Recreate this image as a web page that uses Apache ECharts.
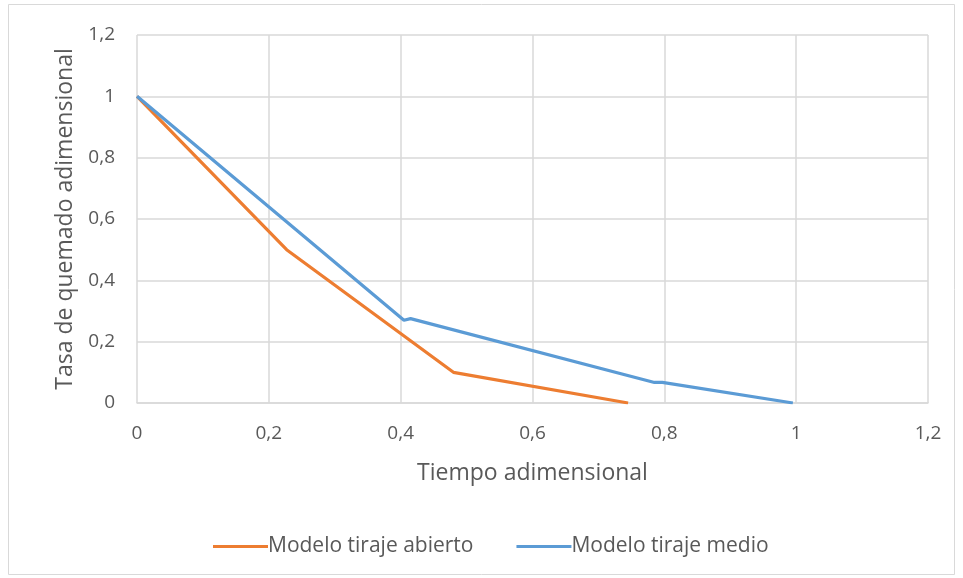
<!DOCTYPE html>
<html>
<head>
<meta charset="utf-8">
<script src="https://cdn.jsdelivr.net/npm/echarts@6/dist/echarts.min.js"></script>
<style>
  html, body { margin: 0; padding: 0; background: #fff; }
  #chart { width: 963px; height: 578px; }
</style>
</head>
<body>
<div id="chart"></div>
<script>
// Dimensionless burn-rate curves for two draft models
const abiertoX = [0, 0.227, 0.48, 0.745];
const abiertoY = [1, 0.5, 0.1, 0];
const medioX = [0, 0.405, 0.415, 0.785, 0.797, 0.995];
const medioY = [1, 0.27, 0.275, 0.067, 0.067, 0];
const seriesNames = ['Modelo tiraje abierto', 'Modelo tiraje medio'];
const xTitle = 'Tiempo adimensional';
const yTitle = 'Tasa de quemado adimensional';

const pairs = (xs, ys) => xs.map((x, i) => [x, ys[i]]);
const fmt = v => String(+v.toFixed(1)).replace('.', ',');
const font = "'Open Sans', sans-serif";

const chart = echarts.init(document.getElementById('chart'));
chart.setOption({
  animation: false,
  backgroundColor: '#fff',
  graphic: [{
    type: 'rect',
    shape: { x: 8.5, y: 4.5, width: 946, height: 570 },
    style: { fill: 'none', stroke: '#d9d9d9', lineWidth: 1 }
  }],
  grid: { left: 137, right: 35, top: 35, bottom: 175 },
  xAxis: {
    type: 'value', min: 0, max: 1.2, interval: 0.2,
    name: xTitle, nameLocation: 'middle', nameGap: 59,
    nameTextStyle: { color: '#595959', fontSize: 23, fontFamily: font },
    axisLine: { show: true, lineStyle: { color: '#d9d9d9', width: 1.5 } },
    axisTick: { show: false },
    axisLabel: { color: '#595959', fontSize: 19, fontFamily: font, margin: 21, formatter: fmt },
    splitLine: { show: true, lineStyle: { color: '#d9d9d9', width: 1.5 } }
  },
  yAxis: {
    type: 'value', min: 0, max: 1.2, interval: 0.2,
    name: yTitle, nameLocation: 'middle', nameGap: 60,
    nameTextStyle: { color: '#595959', fontSize: 23, fontFamily: font },
    axisLine: { show: false },
    axisTick: { show: false },
    axisLabel: { color: '#595959', fontSize: 19, fontFamily: font, margin: 22, formatter: fmt },
    splitLine: { show: true, lineStyle: { color: '#d9d9d9', width: 1.5 } }
  },
  legend: {
    bottom: 16, left: 208, itemGap: 43,
    itemWidth: 55, itemHeight: 3,
    icon: 'rect',
    textStyle: { color: '#595959', fontSize: 21, fontFamily: font, padding: [0, 0, 0, -5] },
    data: seriesNames
  },
  series: [
    {
      name: seriesNames[0], type: 'line', data: pairs(abiertoX, abiertoY),
      showSymbol: false, symbol: 'none',
      lineStyle: { color: '#ED7D31', width: 3.2 }, itemStyle: { color: '#ED7D31' }
    },
    {
      name: seriesNames[1], type: 'line', data: pairs(medioX, medioY),
      showSymbol: false, symbol: 'none',
      lineStyle: { color: '#5B9BD5', width: 3.2 }, itemStyle: { color: '#5B9BD5' }
    }
  ]
});
</script>
</body>
</html>
